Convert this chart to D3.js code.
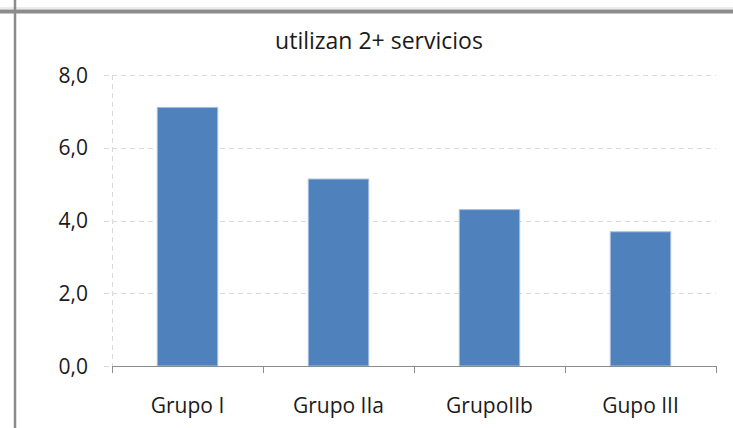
<!DOCTYPE html>
<html>
<head>
<meta charset="utf-8">
<script src="https://cdn.jsdelivr.net/npm/d3@7"></script>
<style>
  body { margin: 0; background: #fff; }
  text { font-family: "Open Sans", sans-serif; fill: #1a1a1a; }
</style>
</head>
<body>
<svg id="chart" width="733" height="428"></svg>
<script>
var categories = ["Grupo I", "Grupo IIa", "GrupoIIb", "Gupo III"];
var values = [7.11, 5.14, 4.30, 3.69];
var yTicks = [0, 2, 4, 6, 8];
var title = "utilizan 2+ servicios";

var svg = d3.select("#chart"),
    margin = {top: 75, left: 112, right: 17, bottom: 62},
    W = 733, H = 428,
    w = W - margin.left - margin.right,
    h = H - margin.top - margin.bottom;

// frame lines of the surrounding sheet
svg.append("line").attr("x1", 0).attr("x2", W).attr("y1", 8).attr("y2", 8)
  .style("stroke", "#d8d8d8").style("stroke-width", 1);
svg.append("line").attr("x1", 0).attr("x2", W).attr("y1", 11.5).attr("y2", 11.5)
  .style("stroke", "#8c8c8c").style("stroke-width", 4);
svg.append("line").attr("x1", 15).attr("x2", 15).attr("y1", 0).attr("y2", H)
  .style("stroke", "#8c8c8c").style("stroke-width", 2.5);

var g = svg.append("g").attr("transform", "translate(" + margin.left + "," + margin.top + ")");

var x = d3.scaleBand().domain(categories).range([0, w]).paddingInner(0.6).paddingOuter(0.3);
var y = d3.scaleLinear().domain([0, 8]).range([h, 0]);

// gridlines
g.selectAll("line.grid")
  .data(yTicks.filter(function(d) { return d > 0; }))
  .enter().append("line")
  .attr("class", "grid")
  .attr("x1", 0).attr("x2", w)
  .attr("y1", function(d) { return Math.round(y(d)) + 0.5; })
  .attr("y2", function(d) { return Math.round(y(d)) + 0.5; })
  .style("stroke", "#d9d9d9").style("stroke-dasharray", "5,4");

// y axis (dashed like the grid)
g.append("line").attr("x1", 0.5).attr("x2", 0.5).attr("y1", 0).attr("y2", h)
  .style("stroke", "#d9d9d9").style("stroke-dasharray", "5,4");
g.selectAll("line.ytick").data(yTicks).enter().append("line")
  .attr("class", "ytick")
  .attr("x1", -8).attr("x2", -3)
  .attr("y1", function(d) { return Math.round(y(d)) + 0.5; })
  .attr("y2", function(d) { return Math.round(y(d)) + 0.5; })
  .style("stroke", "#d9d9d9");

g.selectAll("text.ylab").data(yTicks).enter().append("text")
  .attr("class", "ylab")
  .attr("x", -24)
  .attr("y", function(d) { return y(d); })
  .attr("dy", "0.36em")
  .attr("text-anchor", "end")
  .style("font-size", "21px")
  .text(function(d) { return d.toFixed(1).replace(".", ","); });

// bars
g.selectAll("rect.bar").data(values).enter().append("rect")
  .attr("class", "bar")
  .attr("x", function(d, i) { return x(categories[i]); })
  .attr("width", x.bandwidth())
  .attr("y", function(d) { return y(d); })
  .attr("height", function(d) { return h - y(d); })
  .attr("fill", "#4f81bd")
  .style("stroke", "#a7bfdf").style("stroke-width", 1);

// x axis
g.append("line").attr("x1", 0).attr("x2", w).attr("y1", h + 0.5).attr("y2", h + 0.5)
  .style("stroke", "#8c8c8c").style("stroke-width", 1);
var step = w / categories.length;
g.selectAll("line.xtick").data(d3.range(categories.length + 1)).enter().append("line")
  .attr("class", "xtick")
  .attr("x1", function(d) { return Math.round(d * step) + 0.5; })
  .attr("x2", function(d) { return Math.round(d * step) + 0.5; })
  .attr("y1", h).attr("y2", h + 7)
  .style("stroke", "#8c8c8c");

g.selectAll("text.xlab").data(categories).enter().append("text")
  .attr("class", "xlab")
  .attr("x", function(d) { return x(d) + x.bandwidth() / 2; })
  .attr("y", h + 47)
  .attr("text-anchor", "middle")
  .style("font-size", "21px")
  .text(function(d) { return d; });

svg.append("text")
  .attr("x", 379).attr("y", 49)
  .attr("text-anchor", "middle")
  .style("font-size", "23px")
  .text(title);
</script>
</body>
</html>
